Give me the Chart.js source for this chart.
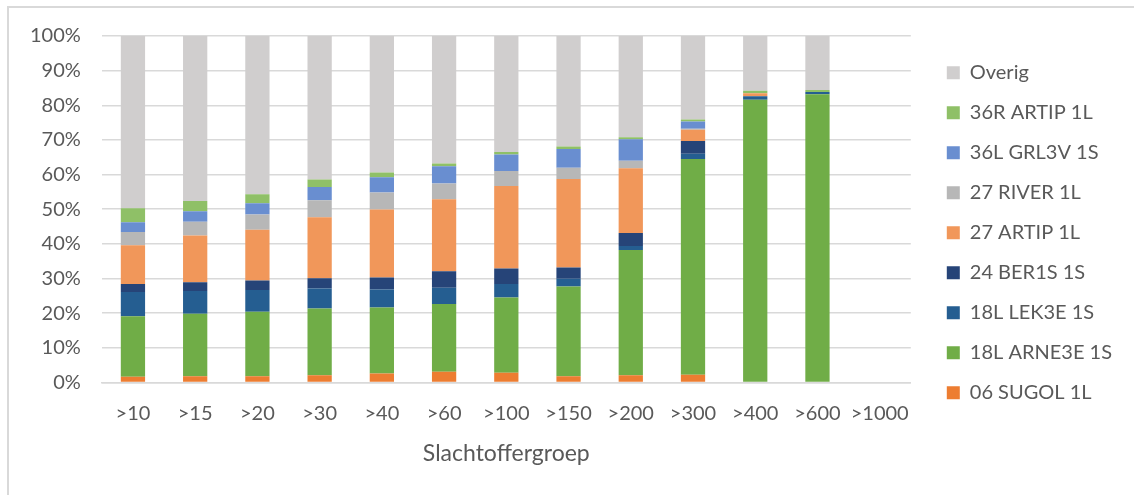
<!DOCTYPE html>
<html>
<head>
<meta charset="utf-8">
<script src="https://cdn.jsdelivr.net/npm/chart.js@4"></script>
<style>
  html, body { margin: 0; padding: 0; background: #fff; overflow: hidden; }
  #wrap { position: absolute; left: 7px; top: 6px; width: 1127px; height: 489px; border-left: 2px solid #d9d9d9; border-top: 2px solid #d9d9d9; }
  #bars-slachtoffer { position: relative; top: -5px; }
</style>
</head>
<body>
<div id="wrap"><canvas id="bars-slachtoffer"></canvas></div>
<script>
  const categories = ['>10', '>15', '>20', '>30', '>40', '>60', '>100', '>150', '>200', '>300', '>400', '>600', '>1000']
  const yTicks = [0, 10, 20, 30, 40, 50, 60, 70, 80, 90, 100]

  // percentages per category, bottom of the stack first
  const sugol06 = [1.6, 1.8, 1.8, 2.1, 2.6, 3.1, 2.8, 1.8, 2.1, 2.2, 0, 0, 0]
  const arne18L = [17.5, 18.0, 18.6, 19.2, 19.0, 19.5, 21.7, 25.9, 36.1, 62.3, 81.6, 83.2, 0]
  const lek18L = [7.0, 6.6, 6.3, 5.8, 5.2, 4.7, 3.9, 2.2, 1.2, 1.5, 1.0, 0.6, 0]
  const ber24 = [2.3, 2.5, 2.7, 3.0, 3.5, 4.8, 4.5, 3.3, 3.7, 3.7, 0, 0, 0]
  const artip27 = [11.2, 13.5, 14.7, 17.6, 19.6, 20.8, 23.8, 25.5, 18.7, 3.2, 0.9, 0, 0]
  const river27 = [3.8, 4.0, 4.4, 4.9, 4.9, 4.5, 4.3, 3.3, 2.2, 0.3, 0, 0, 0]
  const grl36L = [2.8, 3.0, 3.2, 3.8, 4.4, 5.0, 4.8, 5.4, 6.2, 2.1, 0, 0, 0]
  const artip36R = [4.1, 3.0, 2.6, 2.2, 1.4, 0.8, 0.7, 0.7, 0.6, 0.6, 0.7, 0.6, 0]
  const overig = [49.7, 47.6, 45.7, 41.4, 39.4, 36.8, 33.5, 31.9, 29.2, 24.1, 15.8, 15.6, 0]

  const textColor = '#595959'
  const family = 'Lato, "Open Sans", sans-serif'
  const font = { family: family, size: 20 }

  function ds(label, data, color) {
    return {
      label: label,
      data: data,
      backgroundColor: color,
      borderWidth: 0,
      barPercentage: 0.39,
      categoryPercentage: 1,
    }
  }

  const barConfigSlachtoffer = {
    type: 'bar',
    data: {
      labels: categories,
      datasets: [
        ds('06 SUGOL 1L', sugol06, '#ed7d31'),
        ds('18L ARNE3E 1S', arne18L, '#70ad47'),
        ds('18L LEK3E 1S', lek18L, '#255e91'),
        ds('24 BER1S 1S', ber24, '#264478'),
        ds('27 ARTIP 1L', artip27, '#f1975a'),
        ds('27 RIVER 1L', river27, '#b7b7b7'),
        ds('36L GRL3V 1S', grl36L, '#698ed0'),
        ds('36R ARTIP 1L', artip36R, '#8fc067'),
        ds('Overig', overig, '#d0cece'),
      ],
    },
    options: {
      responsive: true,
      maintainAspectRatio: false,
      animation: false,
      layout: { padding: { left: 0, right: 14, top: 17, bottom: 25 } },
      scales: {
        x: {
          stacked: true,
          grid: { display: false, drawTicks: false },
          border: { color: '#d9d9d9', width: 1.5 },
          ticks: { color: textColor, font: font, padding: 19, maxRotation: 0, minRotation: 0, autoSkip: false },
          title: { display: true, text: 'Slachtoffergroep', color: textColor, font: { family: family, size: 23 }, padding: { top: -5, bottom: 0 } },
        },
        y: {
          stacked: true,
          min: 0,
          max: 100,
          afterBuildTicks: (axis) => { axis.ticks = yTicks.map(v => ({ value: v })) },
          grid: { color: '#d9d9d9', lineWidth: 1.5, drawTicks: false },
          border: { display: false },
          ticks: { color: textColor, font: font, padding: 21, callback: (v) => v + '%' },
        },
        // empty scale, only keeps some room between the bars and the legend
        gap: {
          type: 'linear',
          position: 'right',
          grid: { display: false, drawTicks: false },
          border: { display: false },
          ticks: { display: false },
          afterFit: (s) => { s.width = 16 },
        },
      },
      plugins: {
        legend: {
          position: 'right',
          align: 'start',
          reverse: true,
          maxWidth: 300,
          title: { display: true, text: '', font: { size: 19 }, padding: 0 },
          labels: { color: textColor, font: font, boxWidth: 13, boxHeight: 13, padding: 20 },
        },
        tooltip: { enabled: false },
      },
    },
  }

  const barsSlachtoffer = document.getElementById('bars-slachtoffer')
  window.myBar = new Chart(barsSlachtoffer, barConfigSlachtoffer)
</script>
</body>
</html>
